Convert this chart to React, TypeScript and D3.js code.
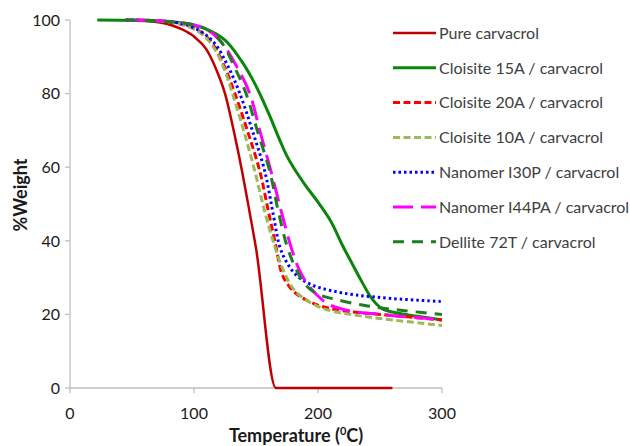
import React from 'react'
import {scaleLinear, line, curveMonotoneX, curveCatmullRom} from 'd3'

// temperature (C) / weight (%) pairs
const pure = [[45, 100], [60, 99.8], [75, 99.2], [90, 97.5], [100, 95.5], [110, 92], [118, 86.5], [125, 80], [132, 70], [139, 58.5], [145, 47.5], [150, 38], [166, 0], [260, 0]]
const c15a = [[22, 100], [60, 99.8], [90, 99.2], [110, 97.5], [125, 94.5], [138, 89], [147, 84], [153, 80], [161, 74], [169, 67.5], [175, 63], [181, 59.5], [190, 55], [200, 50.5], [210, 45.5], [220, 38.6], [228, 33.5], [236, 28.5], [244, 24], [252, 21.5], [265, 20.3], [280, 19.5], [300, 18.5]]
const c20a = [[45, 100], [70, 99.8], [90, 98.8], [105, 96.8], [115, 93.5], [125, 87], [133, 80], [143, 70], [153, 59], [160, 48], [166, 38.6], [171, 31], [177, 27.5], [185, 25], [200, 22.5], [220, 21], [250, 20], [300, 18.5]]
const c10a = [[45, 100], [70, 99.8], [90, 98.8], [105, 96.5], [115, 93], [124, 87], [131, 80], [140, 70], [149, 59], [157, 48], [165, 38.6], [172, 32], [180, 27], [190, 24], [205, 21.5], [230, 19.8], [260, 18.5], [300, 17]]
const i30p = [[45, 100], [70, 99.8], [90, 99], [105, 97], [117, 93.5], [128, 87], [137, 80], [147, 70], [157, 59], [164, 47], [169, 38.6], [175, 34], [183, 30.5], [195, 28], [210, 26.5], [230, 25.3], [260, 24.3], [300, 23.5]]
const i44pa = [[45, 100], [70, 99.8], [95, 99], [110, 97.5], [122, 94], [135, 87], [145, 80], [153, 70], [162, 59], [170, 48.5], [178, 38.6], [185, 32], [192, 28], [200, 25], [210, 22.5], [225, 21], [250, 20], [300, 18.6]]
const d72t = [[45, 100], [70, 99.8], [95, 99], [110, 97.5], [122, 94], [133, 87], [142, 80], [151, 70], [161, 59], [168, 48], [175, 38.6], [182, 32.5], [190, 28], [200, 25.5], [215, 24], [240, 22.3], [270, 21], [300, 20]]

const seriesNames = ['Pure carvacrol', 'Cloisite 15A / carvacrol', 'Cloisite 20A / carvacrol', 'Cloisite 10A / carvacrol', 'Nanomer I30P / carvacrol', 'Nanomer I44PA / carvacrol', 'Dellite 72T / carvacrol']
const seriesData = [pure, c15a, c20a, c10a, i30p, i44pa, d72t]
const xTicks = [0, 100, 200, 300]
const yTicks = [0, 20, 40, 60, 80, 100]

const styles = [
  {color: '#C00000', width: 2.5, dash: null},
  {color: '#0A860A', width: 3, dash: null},
  {color: '#FF0000', width: 3, dash: '7,3.5'},
  {color: '#9BBB59', width: 3, dash: '7,3.5'},
  {color: '#0000FF', width: 3, dash: '2.5,3'},
  {color: '#FF00FF', width: 3, dash: '20,8'},
  {color: '#1E7D1E', width: 3, dash: '11,8'}
]

const font = 'Lato, "Open Sans", sans-serif'

export default function App() {
  const left = 70, right = 442, top = 20, bottom = 388

  const x = scaleLinear().domain([0, 300]).range([left, right])
  const y = scaleLinear().domain([0, 100]).range([bottom, top])

  // pure carvacrol has a hard corner at 0%, the rest are smooth
  const sharp = line().x(d => x(d[0])).y(d => y(d[1])).curve(curveMonotoneX)
  const smooth = line().x(d => x(d[0])).y(d => y(d[1])).curve(curveCatmullRom.alpha(0.5))

  const axisColor = '#BFBFBF'

  return (
    <svg width={630} height={446} style={{position: 'absolute', left: 0, top: 0, background: '#fff'}} fontFamily={font}>
      {/* y axis */}
      <line x1={left} x2={left} y1={top} y2={bottom} stroke={axisColor} strokeWidth={1.3} />
      {yTicks.map(t => (
        <g key={'y' + t}>
          <line x1={left - 5} x2={left} y1={y(t)} y2={y(t)} stroke={axisColor} strokeWidth={1.3} />
          <text x={left - 10} y={y(t)} dy="0.36em" textAnchor="end" fontSize={16} fill="#1a1a1a">{t}</text>
        </g>
      ))}
      {/* x axis */}
      <line x1={left} x2={right} y1={bottom} y2={bottom} stroke={axisColor} strokeWidth={1.3} />
      {xTicks.map(t => (
        <g key={'x' + t}>
          <line x1={x(t)} x2={x(t)} y1={bottom} y2={bottom + 5} stroke={axisColor} strokeWidth={1.3} />
          <text x={x(t)} y={bottom + 31} textAnchor="middle" fontSize={16} fill="#1a1a1a">{t}</text>
        </g>
      ))}
      <text x={296} y={442} textAnchor="middle" fontSize={18} fontWeight="bold" fill="#1a1a1a">
        Temperature (<tspan fontSize={11} dy={-7}>0</tspan><tspan dy={7}>C)</tspan>
      </text>
      <text transform={`translate(27,195) rotate(-90)`} textAnchor="middle" fontSize={18} fontWeight="bold" fill="#1a1a1a">%Weight</text>

      {/* curves */}
      {seriesData.map((d, i) => (
        <path key={seriesNames[i]} d={(i === 0 ? sharp : smooth)(d)} fill="none" stroke={styles[i].color} strokeWidth={styles[i].width}
          strokeDasharray={styles[i].dash || undefined} />
      ))}

      {/* legend */}
      {seriesNames.map((n, i) => {
        const ly = 33 + i * 34.8
        return (
          <g key={'l' + n}>
            <line x1={393} x2={436} y1={ly} y2={ly} stroke={styles[i].color} strokeWidth={styles[i].width}
              strokeDasharray={styles[i].dash || undefined} />
            <text x={439} y={ly} dy="0.36em" fontSize={16} fill="#404040">{n}</text>
          </g>
        )
      })}
    </svg>
  )
}
